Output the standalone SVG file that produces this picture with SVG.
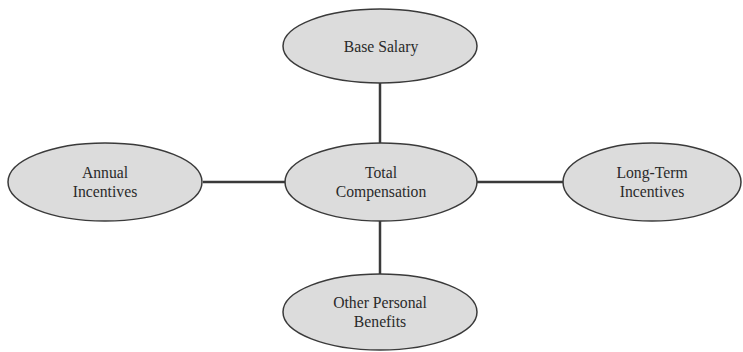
<svg xmlns="http://www.w3.org/2000/svg" width="743" height="352" viewBox="0 0 743 352">
<style>
.n ellipse{fill:#dcdcdc;stroke:#3a3a3a;stroke-width:1.5}
.n text{font-family:"Liberation Serif","Times New Roman",serif;font-size:15.7px;fill:#2a2a2a;text-anchor:middle}
.c line{stroke:#3a3a3a;stroke-width:2.5}
</style>
<rect width="743" height="352" fill="#ffffff"/>
<g id="connectors" class="c">
<line x1="380" y1="83" x2="380" y2="144"/>
<line x1="380" y1="221" x2="380" y2="275"/>
<line x1="203" y1="182" x2="286" y2="182"/>
<line x1="477" y1="182" x2="563" y2="182"/>
</g>
<g id="base-salary" class="n">
<ellipse cx="380" cy="46" rx="97" ry="37"/>
<text x="381" y="52">Base Salary</text>
</g>
<g id="total-compensation" class="n">
<ellipse cx="381" cy="182" rx="96" ry="39"/>
<text x="381" y="178">Total</text>
<text x="381" y="197">Compensation</text>
</g>
<g id="annual-incentives" class="n">
<ellipse cx="105" cy="182" rx="97" ry="39"/>
<text x="105" y="178">Annual</text>
<text x="105" y="197">Incentives</text>
</g>
<g id="long-term-incentives" class="n">
<ellipse cx="652" cy="182" rx="89" ry="39"/>
<text x="652" y="178">Long-Term</text>
<text x="652" y="197">Incentives</text>
</g>
<g id="other-personal-benefits" class="n">
<ellipse cx="380" cy="312" rx="97" ry="38"/>
<text x="380" y="308">Other Personal</text>
<text x="380" y="327">Benefits</text>
</g>
</svg>
